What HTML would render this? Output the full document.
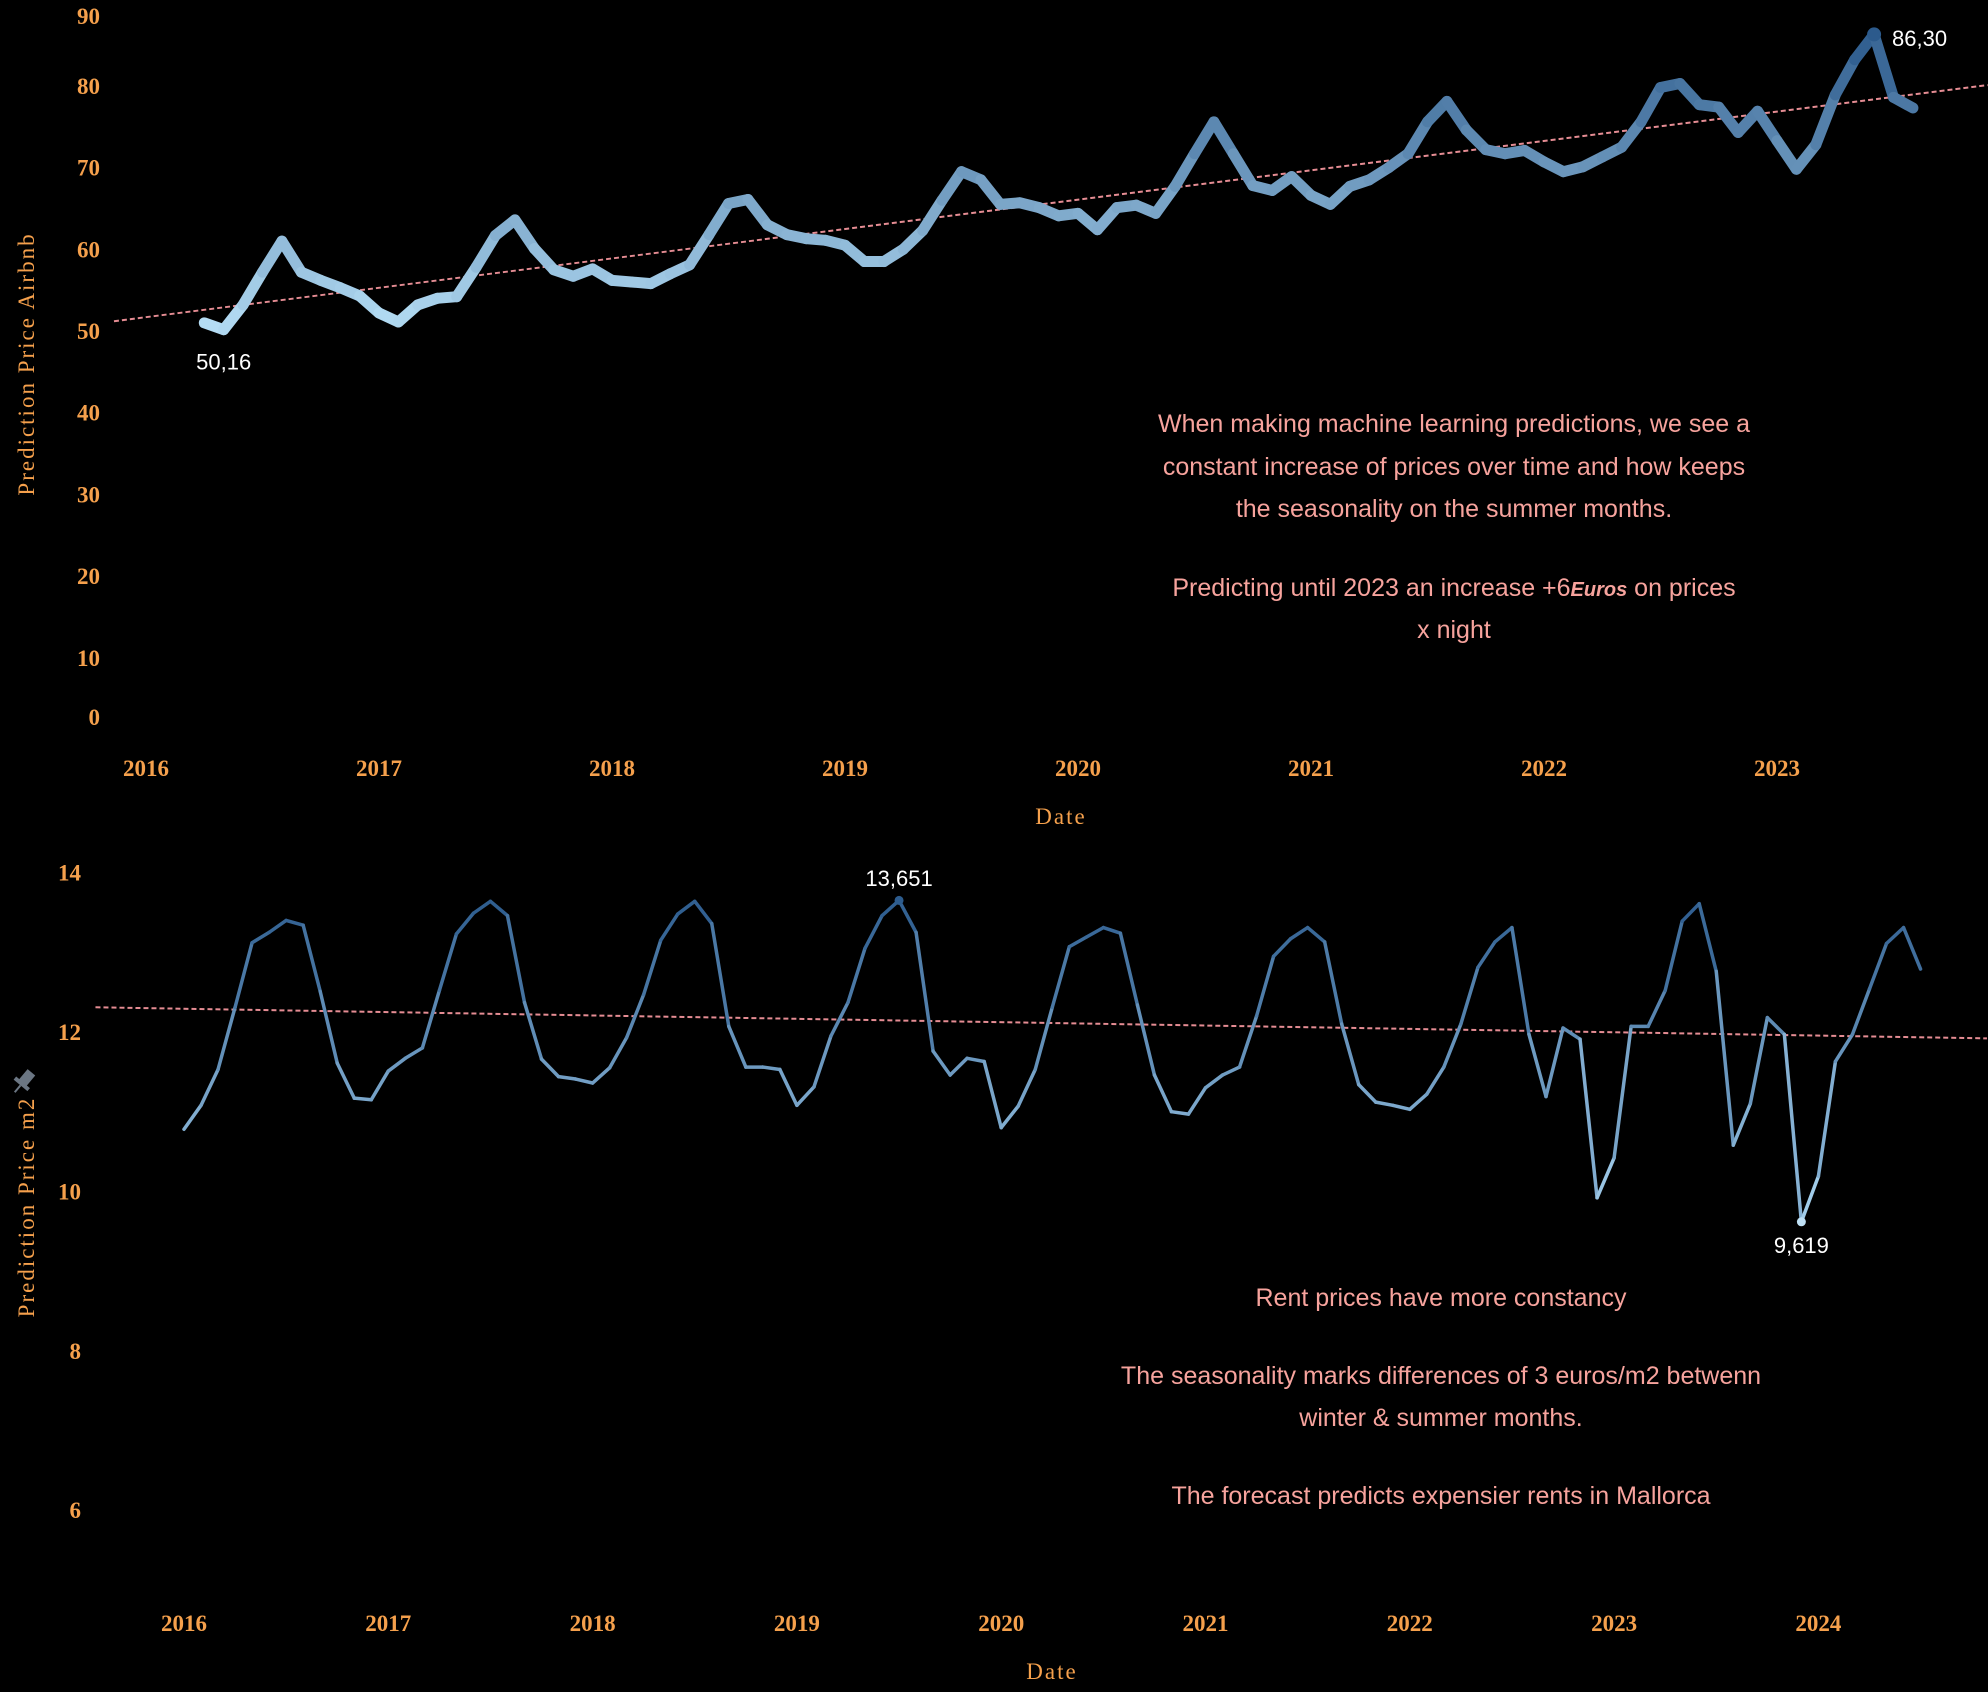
<!DOCTYPE html>
<html><head><meta charset="utf-8"><style>
html,body{margin:0;padding:0;background:#000;}
svg{display:block;}
.tick{font-family:"Liberation Serif",serif;font-size:23px;fill:#f5a04c;font-weight:bold;}
.ttl{font-family:"Liberation Serif",serif;font-size:23px;fill:#f5a04c;letter-spacing:2px;}
.ann{font-family:"Liberation Sans",sans-serif;font-size:25px;fill:#f7a39d;}
.lbl{font-family:"Liberation Sans",sans-serif;font-size:22px;fill:#fff;}
</style></head><body>
<svg id="chart" width="1988" height="1692" xmlns="http://www.w3.org/2000/svg">
<rect width="1988" height="1692" fill="#000"/>
<g id="topchart"></g>
<g id="botchart"></g>
<text class="ttl" transform="translate(34,364) rotate(-90)" text-anchor="middle">Prediction  Price  Airbnb</text>
<text class="ttl" transform="translate(34,1207) rotate(-90)" text-anchor="middle">Prediction  Price  m2</text>
<g transform="translate(25,1080) rotate(40)"><rect x="-5" y="-10" width="10" height="14" fill="#6b7683"/><rect x="-9" y="3" width="18" height="4" fill="#6b7683"/><rect x="-1" y="7" width="2" height="9" fill="#6b7683"/></g>
<text class="ttl" x="1061" y="824" text-anchor="middle">Date</text>
<text class="ttl" x="1052" y="1679" text-anchor="middle">Date</text>
<g text-anchor="middle">
<text class="ann" x="1454" y="432">When making machine learning predictions, we see a</text>
<text class="ann" x="1454" y="475">constant increase of prices over time and how keeps</text>
<text class="ann" x="1454" y="517">the seasonality on the summer months.</text>
<text class="ann" x="1454" y="596">Predicting until 2023 an increase +6<tspan font-style="italic" font-weight="bold" font-size="20">Euros</tspan> on prices</text>
<text class="ann" x="1454" y="638">x night</text>
</g>
<g text-anchor="middle">
<text class="ann" x="1441" y="1306">Rent prices have more constancy</text>
<text class="ann" x="1441" y="1384">The seasonality marks differences of 3 euros/m2 betwenn</text>
<text class="ann" x="1441" y="1426">winter &amp; summer months.</text>
<text class="ann" x="1441" y="1504">The forecast predicts expensier rents in Mallorca</text>
</g>
</svg>
<script>
const NS="http://www.w3.org/2000/svg";
// ---- top chart data (monthly, starting Apr 2016) ----
const airbnbStartMonth=3;
const airbnbValues=[51.0,50.16,53.2,57.2,61.0,57.2,56.2,55.3,54.3,52.2,51.1,53.2,54.0,54.2,57.8,61.7,63.6,60.1,57.5,56.7,57.6,56.2,56.0,55.8,57.0,58.1,61.8,65.6,66.1,63.0,61.8,61.3,61.1,60.5,58.5,58.5,60.0,62.3,66.0,69.5,68.5,
65.5,65.7,65.1,64.1,64.4,62.4,65.1,65.4,64.4,67.7,71.7,75.6,71.7,67.8,67.2,68.9,66.6,65.5,67.7,68.5,70.0,71.7,75.6,78.1,74.6,72.2,71.7,72.1,70.7,69.5,70.1,71.3,72.5,75.6,79.8,80.3,77.7,77.4,74.3,76.9,73.3,69.8,72.8,78.9,83.2,86.3,78.6,77.3];
const airbnbYTicks=[0,10,20,30,40,50,60,70,80,90];
const airbnbXTicks=[2016,2017,2018,2019,2020,2021,2022,2023];
const airbnbTrend=[51.2,80.1];
const airbnbTrendMonths=[-1.65,94.85];
// ---- bottom chart data (monthly, starting Jan 2016) ----
const rentStartMonth=0;
const rentValues=[10.78,11.08,11.53,12.31,13.12,13.25,13.40,13.34,12.51,11.61,11.17,11.15,11.51,11.67,11.80,12.52,13.23,13.49,13.64,13.46,12.37,11.66,11.44,11.41,11.36,11.55,11.93,12.47,13.15,13.48,13.64,13.36,12.07,11.56,11.56,11.53,11.08,11.31,11.95,12.37,13.05,13.46,13.651,13.25,11.76,11.46,11.67,11.63,
10.80,11.07,11.53,12.31,13.07,13.19,13.31,13.24,12.34,11.46,11.0,10.97,11.30,11.46,11.56,12.20,12.95,13.17,13.31,13.13,12.10,11.34,11.12,11.08,11.03,11.22,11.56,12.10,12.81,13.13,13.31,11.97,11.19,12.05,11.91,9.92,10.42,12.07,12.07,12.52,13.39,13.61,12.76,10.58,11.10,12.18,11.97,9.619,10.19,11.63,11.97,12.54,13.11,13.31,12.79];
const rentYTicks=[6,8,10,12,14];
const rentXTicks=[2016,2017,2018,2019,2020,2021,2022,2023,2024];
const rentTrend=[12.31,11.92];
const rentTrendMonths=[-5.2,105.9];

function el(tag,attrs,parent){const e=document.createElementNS(NS,tag);for(const k in attrs)e.setAttribute(k,attrs[k]);parent.appendChild(e);return e;}
function lerpColor(a,b,t){t=Math.max(0,Math.min(1,t));const r=[0,1,2].map(i=>Math.round(a[i]+(b[i]-a[i])*t));return `rgb(${r[0]},${r[1]},${r[2]})`;}

const tx=m=>146+m*233/12;
const ty=v=>739.5-v*8.17;
const bx=m=>184+m*204.3/12;
const by=v=>1032-(v-12)*79.7;

function drawChart(g,vals,start,xf,yf,yt,xt,trendV,trendM,width,light,dark,ytx,xty,ymin,ymax){
  const mn=Math.min(...vals),mx=Math.max(...vals);
  const tr=el('line',{x1:xf(trendM[0]),y1:yf(trendV[0]),x2:xf(trendM[1]),y2:yf(trendV[1]),stroke:'#e58c93','stroke-width':2,'stroke-dasharray':'5,3'},g);
  
  
  yt.forEach(v=>{
    const y=Math.max(ymin,Math.min(ymax,yf(v)));
    const t=el('text',{x:ytx,y:y+8,'text-anchor':'end',class:'tick'},g);
    t.textContent=v;
    
    
  });
  xt.forEach(yr=>{
    const t=el('text',{x:xf((yr-2016)*12),y:xty,'text-anchor':'middle',class:'tick'},g);
    t.textContent=yr;
    
    
  });
  for(let i=0;i<vals.length-1;i++){
    const v=(vals[i]+vals[i+1])/2;
    const s=el('line',{x1:xf(start+i),y1:yf(vals[i]),x2:xf(start+i+1),y2:yf(vals[i+1]),stroke:lerpColor(light,dark,(v-mn)/(mx-mn)),'stroke-width':width,'stroke-linecap':'round'},g);
    
    
  }
}
const topG=document.getElementById('topchart');
drawChart(topG,airbnbValues,airbnbStartMonth,tx,ty,airbnbYTicks,airbnbXTicks,airbnbTrend,airbnbTrendMonths,11,[182,222,245],[44,90,140],100,776,16,717);
const botG=document.getElementById('botchart');
drawChart(botG,rentValues,rentStartMonth,bx,by,rentYTicks,rentXTicks,rentTrend,rentTrendMonths,3.5,[170,212,240],[45,92,142],81,1631,871,1510);

function mark(g,xf,yf,m,v,txt,lx,ly,anchor,color,r){
  const c=el('circle',{cx:xf(m),cy:yf(v),r:r,fill:color},g);
  
  
  const t=el('text',{x:lx,y:ly,'text-anchor':anchor,class:'lbl'},g);
  t.textContent=txt;
  
  
}
const aMinI=airbnbValues.indexOf(Math.min(...airbnbValues));
const aMaxI=airbnbValues.indexOf(Math.max(...airbnbValues));
mark(topG,tx,ty,airbnbStartMonth+aMaxI,airbnbValues[aMaxI],'86,30',1892,46,'start','#2c5a8c',7);
const aMinLbl=el('text',{x:tx(airbnbStartMonth+aMinI),y:ty(airbnbValues[aMinI])+40,'text-anchor':'middle',class:'lbl'},topG);
aMinLbl.textContent='50,16';


const rMaxI=rentValues.indexOf(Math.max(...rentValues));
const rMinI=rentValues.indexOf(Math.min(...rentValues));
mark(botG,bx,by,rMaxI,rentValues[rMaxI],'13,651',bx(rMaxI),886,'middle','#2d5c8e',4.5);
mark(botG,bx,by,rMinI,rentValues[rMinI],'9,619',bx(rMinI),1253,'middle','#bfe0f5',4.5);
</script>
</body></html>
